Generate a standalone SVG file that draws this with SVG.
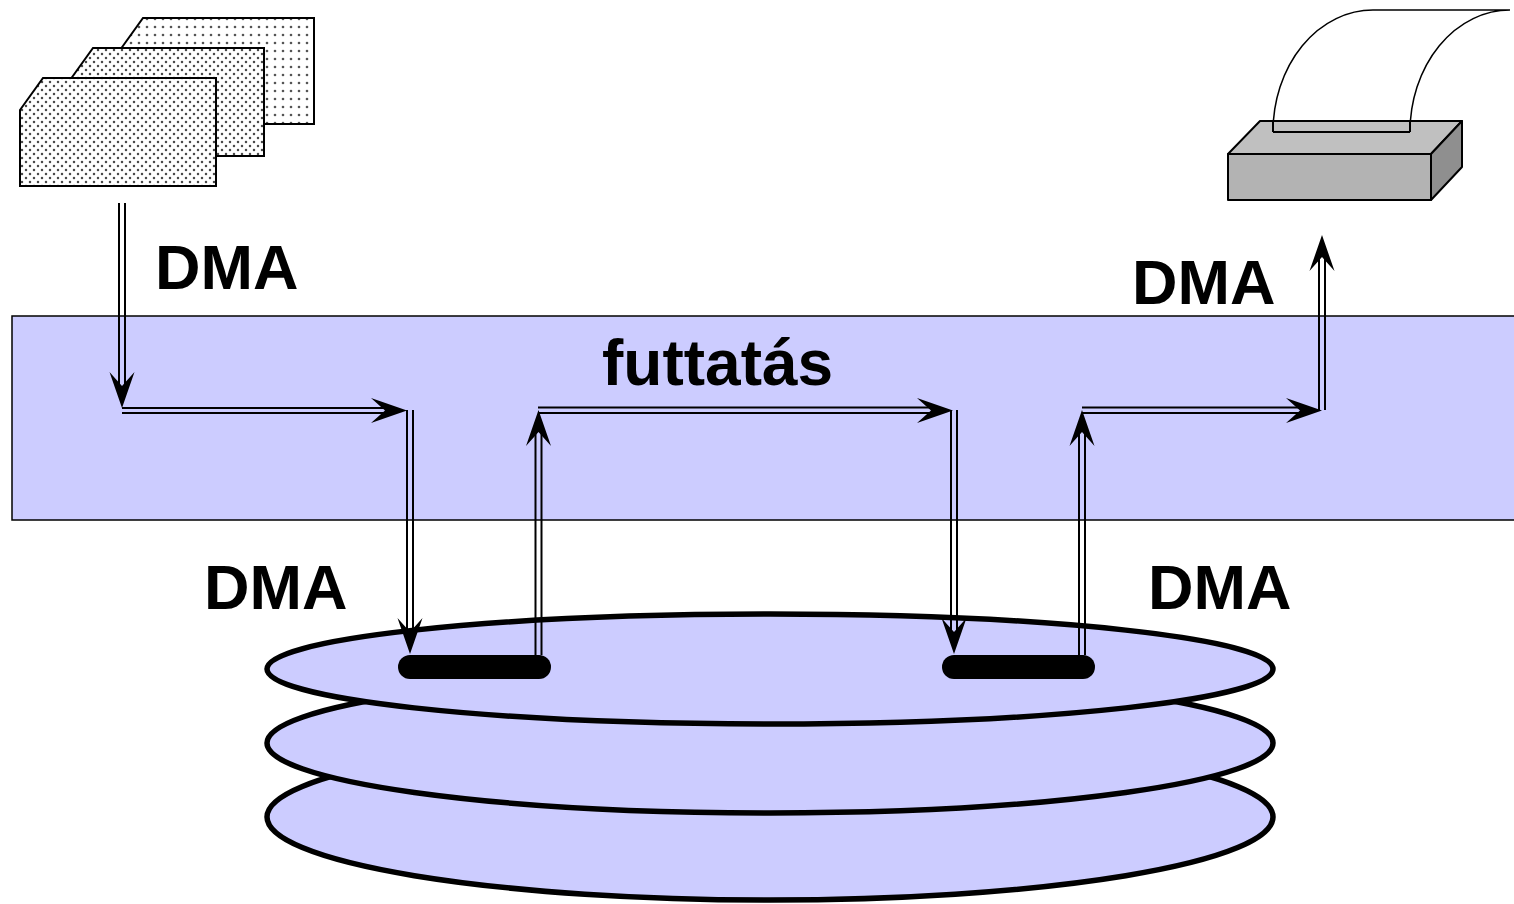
<svg xmlns="http://www.w3.org/2000/svg" xmlns:xlink="http://www.w3.org/1999/xlink" width="1514" height="904" viewBox="0 0 1514 904">
  <style>
    .lbl { font-family: "Liberation Sans", Arial, sans-serif; font-weight: bold; font-size: 63px; fill: #000; }
    .card { stroke: #000; stroke-width: 2; stroke-linejoin: miter; }
    .platter { fill: #CCCCFF; stroke: #000; stroke-width: 5.5; }
    .rail { stroke: #000; stroke-width: 2; fill: none; }
    .head { fill: #000; }
    .edge { stroke: #000; stroke-width: 2; stroke-linejoin: round; }
  </style>
  <defs>
    <!-- stipple fills for the punched cards -->
    <pattern id="dotsDense" width="8" height="8" patternUnits="userSpaceOnUse">
      <rect width="8" height="8" fill="#fff"/>
      <circle cx="2" cy="2" r="1.25" fill="#4a4a4a"/>
      <circle cx="6" cy="6" r="1.25" fill="#4a4a4a"/>
    </pattern>
    <pattern id="dotsSparse" width="8" height="8" patternUnits="userSpaceOnUse">
      <rect width="8" height="8" fill="#fff"/>
      <circle cx="3" cy="3" r="1.3" fill="#555"/>
    </pattern>
    <!-- arrowhead pointing right, tip at origin -->
    <path id="head" class="head" d="M0,0 L-36,-12.5 L-22,0 L-36,12.5 Z"/>
  </defs>

  <!-- card deck -->
  <g id="cards">
    <polygon class="card" fill="url(#dotsSparse)" points="120,50 143,18 314,18 314,124 120,124"/>
    <polygon class="card" fill="url(#dotsDense)" points="70,80 93,48 264,48 264,156 70,156"/>
    <polygon class="card" fill="url(#dotsDense)" points="20,110 43,78 216,78 216,186 20,186"/>
  </g>

  <!-- printer -->
  <g id="printer">
    <path d="M1273,132 A100,122 0 0 1 1373,10 L1510,10 A100,122 0 0 0 1410,132 Z" fill="#fff" stroke="#000" stroke-width="1.5"/>
    <polygon class="edge" fill="#C0C0C0" points="1228,154 1260,121 1462,121 1431,154"/>
    <polygon class="edge" fill="#8F8F8F" points="1431,154 1462,121 1462,167 1431,200"/>
    <rect class="edge" fill="#B3B3B3" x="1228" y="154" width="203" height="46"/>
    <path d="M1273,132 L1410,132 M1273,132 L1273,120 M1410,132 L1410,120" stroke="#000" stroke-width="2" fill="none"/>
  </g>

  <!-- main memory -->
  <g id="memory">
    <rect x="12" y="316" width="1510" height="204" fill="#CCCCFF" stroke="#000" stroke-width="1.5"/>
  </g>

  <!-- disk -->
  <g id="disk">
    <ellipse class="platter" cx="770" cy="817" rx="503" ry="83"/>
    <ellipse class="platter" cx="770" cy="743" rx="503" ry="70"/>
    <ellipse class="platter" cx="770" cy="669" rx="503" ry="55"/>
    <rect x="398" y="655" width="153" height="24" rx="12" fill="#000"/>
    <rect x="942" y="655" width="153" height="24" rx="12" fill="#000"/>
  </g>

  <!-- transfer paths -->
  <g id="connectors">
    <!-- cards to memory -->
    <line class="rail" x1="119" y1="203" x2="119" y2="390"/>
    <line class="rail" x1="125" y1="203" x2="125" y2="390"/>
    <use xlink:href="#head" href="#head" transform="translate(122,408) rotate(90)"/>

    <line class="rail" x1="122" y1="408" x2="390" y2="408"/>
    <line class="rail" x1="122" y1="413" x2="390" y2="413"/>
    <use xlink:href="#head" href="#head" transform="translate(407,410.5)"/>

    <!-- memory to disk, first spool area -->
    <line class="rail" x1="407" y1="410" x2="407" y2="636"/>
    <line class="rail" x1="413" y1="410" x2="413" y2="636"/>
    <use xlink:href="#head" href="#head" transform="translate(410,654) rotate(90)"/>

    <!-- disk back to memory -->
    <line class="rail" x1="535.5" y1="655" x2="535.5" y2="428"/>
    <line class="rail" x1="541.5" y1="655" x2="541.5" y2="428"/>
    <use xlink:href="#head" href="#head" transform="translate(538.5,410) rotate(-90)"/>

    <!-- execution -->
    <line class="rail" x1="538" y1="407.5" x2="936" y2="407.5"/>
    <line class="rail" x1="538" y1="413" x2="936" y2="413"/>
    <use xlink:href="#head" href="#head" transform="translate(953,410.5)"/>

    <!-- memory to disk, second spool area -->
    <line class="rail" x1="951" y1="410" x2="951" y2="636"/>
    <line class="rail" x1="957" y1="410" x2="957" y2="636"/>
    <use xlink:href="#head" href="#head" transform="translate(954,654) rotate(90)"/>

    <!-- disk back to memory -->
    <line class="rail" x1="1079" y1="655" x2="1079" y2="428"/>
    <line class="rail" x1="1085" y1="655" x2="1085" y2="428"/>
    <use xlink:href="#head" href="#head" transform="translate(1082,410) rotate(-90)"/>

    <line class="rail" x1="1082" y1="407.5" x2="1305" y2="407.5"/>
    <line class="rail" x1="1082" y1="413" x2="1305" y2="413"/>
    <use xlink:href="#head" href="#head" transform="translate(1322,410.5)"/>

    <!-- memory to printer -->
    <line class="rail" x1="1319" y1="410" x2="1319" y2="253"/>
    <line class="rail" x1="1325" y1="410" x2="1325" y2="253"/>
    <use xlink:href="#head" href="#head" transform="translate(1322,235) rotate(-90)"/>
  </g>

  <!-- labels -->
  <g id="labels">
    <text class="lbl" x="155" y="289">DMA</text>
    <text class="lbl" x="1132" y="304">DMA</text>
    <text class="lbl" x="204" y="609">DMA</text>
    <text class="lbl" x="1148" y="609">DMA</text>
    <text class="lbl" x="602" y="385" style="font-size:64px">futtatás</text>
  </g>
</svg>
